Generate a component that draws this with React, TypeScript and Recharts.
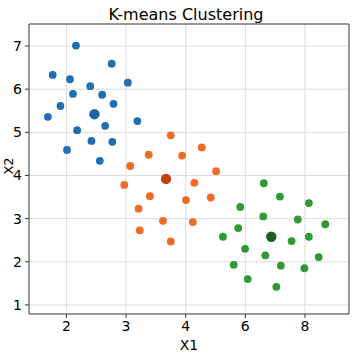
import { ScatterChart, Scatter, XAxis, YAxis, CartesianGrid, ReferenceArea } from 'recharts';

// x values (2, 3, 4, 6, 8 sit at equal spacing)
const xTickLabels = [2, 3, 4, 6, 8];
const yTicks = [1, 2, 3, 4, 5, 6, 7];

const blueX = [2.16, 2.76, 1.77, 2.06, 2.4, 3.03, 2.11, 2.6, 2.79, 1.9, 1.69, 3.19, 2.65, 2.18, 2.42, 2.77, 2.01, 2.56];
const blueY = [7.01, 6.59, 6.33, 6.23, 6.07, 6.15, 5.89, 5.87, 5.66, 5.61, 5.36, 5.26, 5.15, 5.05, 4.8, 4.78, 4.59, 4.34];

const orangeX = [3.75, 4.54, 3.38, 3.94, 3.07, 5.02, 4.29, 2.97, 3.4, 4.84, 4.01, 3.21, 3.62, 4.24, 3.23, 3.75];
const orangeY = [4.93, 4.65, 4.48, 4.46, 4.22, 4.1, 3.83, 3.78, 3.52, 3.49, 3.43, 3.23, 2.95, 2.92, 2.73, 2.47];

const greenX = [6.62, 7.16, 5.83, 8.13, 6.6, 7.76, 8.68, 5.76, 5.25, 7.55, 8.13, 5.99, 6.67, 8.46, 5.61, 7.19, 7.98, 6.08, 7.04];
const greenY = [3.82, 3.51, 3.27, 3.36, 3.05, 2.98, 2.87, 2.78, 2.58, 2.48, 2.58, 2.3, 2.15, 2.11, 1.93, 1.91, 1.85, 1.6, 1.42];

const centroidX = [2.47, 3.67, 6.87];
const centroidY = [5.42, 3.92, 2.58];

const colors = ['#1f6fb2', '#f26b26', '#2e9a31'];
const centroidColors = ['#1c64a6', '#c2410f', '#1f5e1f'];

// axis is linear up to 4, then half speed
const toAxis = (x: number) => (x <= 4 ? x : 4 + (x - 4) / 2);
const fromAxis = (u: number) => (u <= 4 ? u : 4 + (u - 4) * 2);

const pts = (xs: number[], ys: number[]) => xs.map((x, i) => ({ u: toAxis(x), y: ys[i] }));

const blueData = pts(blueX, blueY);
const orangeData = pts(orangeX, orangeY);
const greenData = pts(greenX, greenY);
const centroidData = centroidX.map((x, i) => ({ u: toAxis(x), y: centroidY[i], c: i }));

const xDomain = [1.373, 6.738];
const yDomain = [0.79, 7.51];

const dot = (color: string) => (p: any) => <circle cx={p.cx} cy={p.cy} r={3.9} fill={color} />;
const bigDot = (p: any) => <circle cx={p.cx} cy={p.cy} r={5.2} fill={centroidColors[p.payload.c]} />;

const YLabel = () => (
    <text x={0} y={0} transform="translate(13,166) rotate(-90)" textAnchor="middle" fontSize={13} fill="#000">
        X2
    </text>
);

export default function App() {
    return (
        <div style={{ position: 'absolute', left: 0, top: 0, width: 356, height: 356, background: '#fff', fontFamily: 'DejaVu Sans' }}>
            <ScatterChart width={356} height={356} margin={{ top: 24, right: 7, bottom: 0, left: 0 }}>
                <CartesianGrid stroke="#dcdcdc" strokeWidth={1} />
                <XAxis
                    type="number"
                    dataKey="u"
                    domain={xDomain}
                    allowDataOverflow
                    ticks={xTickLabels.map(toAxis)}
                    tickFormatter={(v: number) => String(fromAxis(v))}
                    height={42}
                    axisLine={false}
                    tickLine={{ stroke: '#333' }}
                    tickSize={4}
                    tickMargin={3}
                    tick={{ fill: '#000', fontSize: 14 }}
                    label={{ value: 'X1', position: 'insideBottom', offset: 6, fill: '#000', fontSize: 14 }}
                />
                <YAxis
                    type="number"
                    dataKey="y"
                    domain={yDomain}
                    allowDataOverflow
                    ticks={yTicks}
                    width={29}
                    axisLine={false}
                    tickLine={{ stroke: '#333' }}
                    tickSize={4}
                    tickMargin={3}
                    tick={{ fill: '#000', fontSize: 14 }}
                    label={<YLabel />}
                />
                <ReferenceArea
                    x1={xDomain[0]}
                    x2={xDomain[1]}
                    y1={yDomain[0]}
                    y2={yDomain[1]}
                    ifOverflow="visible"
                    fill="none"
                    stroke="#444"
                    strokeWidth={1}
                    label={{ value: 'K-means Clustering', position: 'top', offset: 4, fontSize: 16, fill: '#000', dx: -3 }}
                />
                <Scatter data={blueData} shape={dot(colors[0])} isAnimationActive={false} />
                <Scatter data={orangeData} shape={dot(colors[1])} isAnimationActive={false} />
                <Scatter data={greenData} shape={dot(colors[2])} isAnimationActive={false} />
                <Scatter data={centroidData} shape={bigDot} isAnimationActive={false} />
            </ScatterChart>
        </div>
    );
}
